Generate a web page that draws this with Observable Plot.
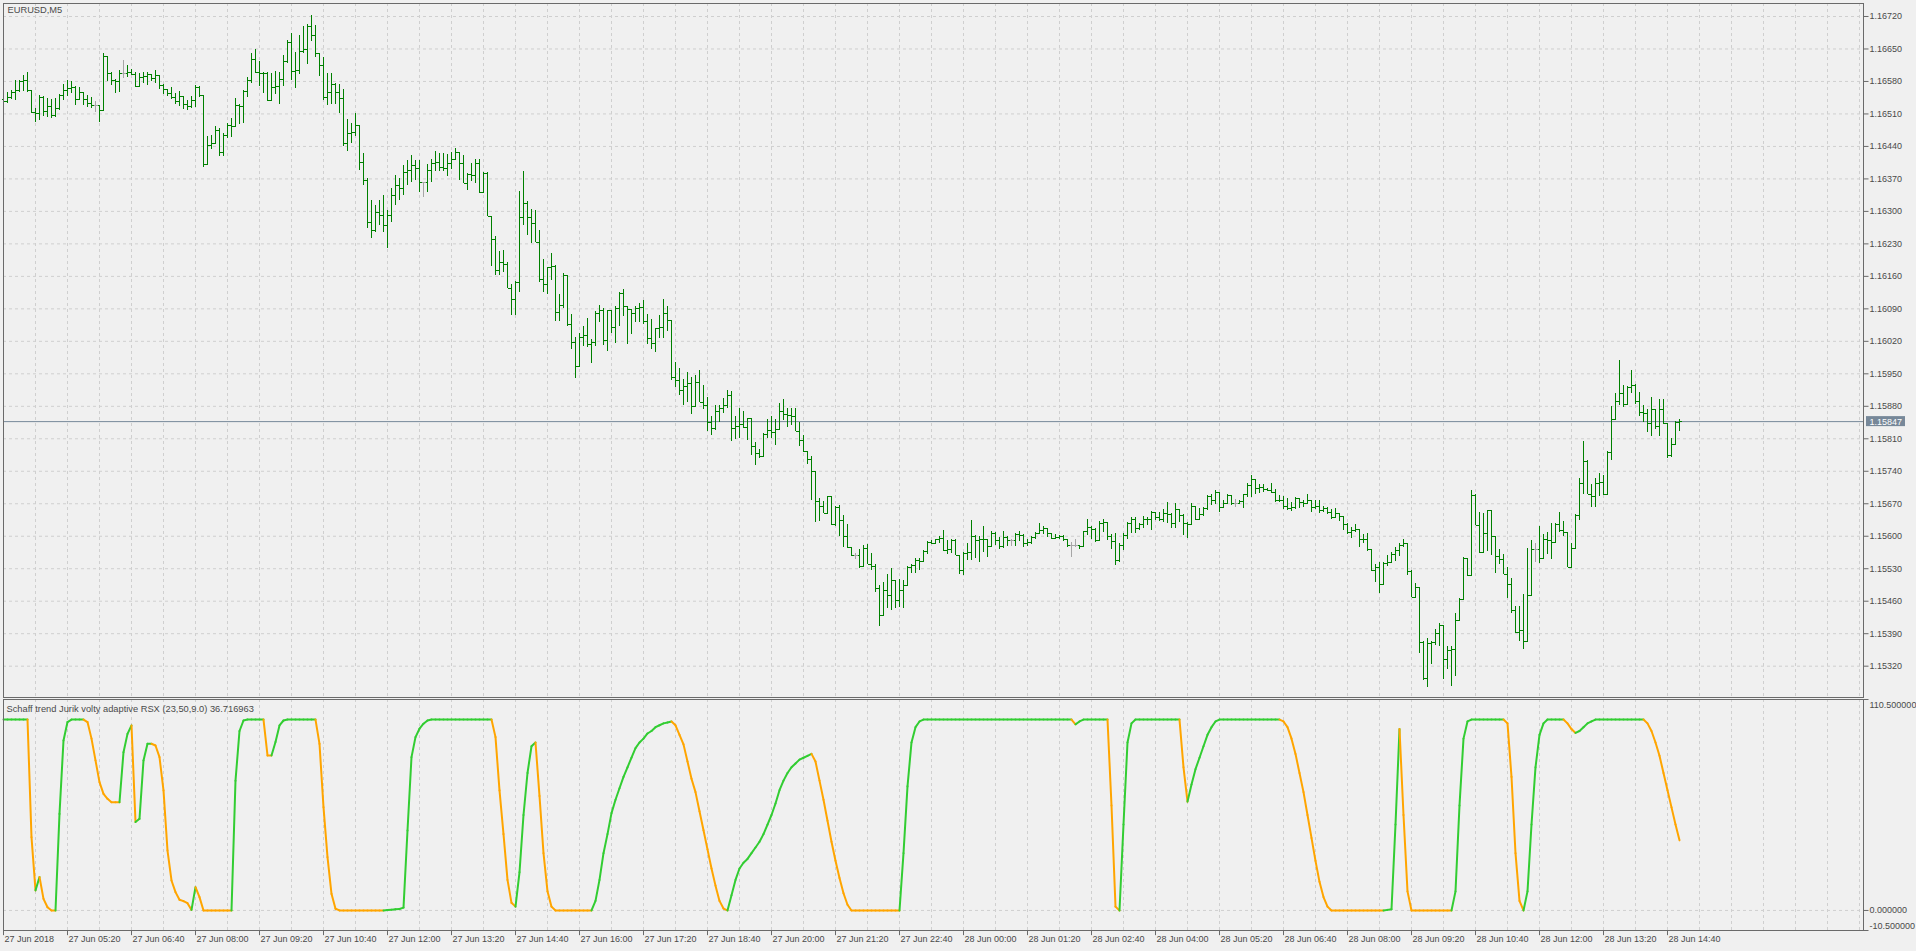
<!DOCTYPE html>
<html><head><meta charset="utf-8">
<script src="https://cdn.jsdelivr.net/npm/d3@7"></script>
<script src="https://cdn.jsdelivr.net/npm/@observablehq/plot@0.6"></script>
<style>
html,body{margin:0;padding:0;background:#f0f0f0;}
#wrap{position:relative;width:1916px;height:951px;overflow:hidden;background:#f0f0f0;}
#wrap svg{position:absolute;left:0;}
</style></head><body><div id="wrap"></div>
<script>
const symbolTitle = "EURUSD,M5";
const indicatorTitle = "Schaff trend Jurik volty adaptive RSX (23,50,9.0) 36.716963";
const lastPrice = 1.15847;
const priceTicks = [1.16720,1.16650,1.16580,1.16510,1.16440,1.16370,1.16300,1.16230,1.16160,1.16090,1.16020,1.15950,1.15880,1.15810,1.15740,1.15670,1.15600,1.15530,1.15460,1.15390,1.15320];
const indicatorTicks = [110.5, 0, -10.5];
const timeLabels = ["27 Jun 2018","27 Jun 05:20","27 Jun 06:40","27 Jun 08:00","27 Jun 09:20","27 Jun 10:40","27 Jun 12:00","27 Jun 13:20","27 Jun 14:40","27 Jun 16:00","27 Jun 17:20","27 Jun 18:40","27 Jun 20:00","27 Jun 21:20","27 Jun 22:40","28 Jun 00:00","28 Jun 01:20","28 Jun 02:40","28 Jun 04:00","28 Jun 05:20","28 Jun 06:40","28 Jun 08:00","28 Jun 09:20","28 Jun 10:40","28 Jun 12:00","28 Jun 13:20","28 Jun 14:40"];

const high = [
1.16541,1.16557,1.16561,1.16581,1.16581,1.16593,1.16600,1.16561,1.16521,1.16550,
1.16548,1.16543,1.16541,1.16543,1.16552,1.16574,1.16581,1.16579,1.16569,1.16568,
1.16555,1.16549,1.16545,1.16536,1.16528,1.16640,1.16634,1.16600,1.16584,1.16604,
1.16625,1.16615,1.16605,1.16600,1.16597,1.16600,1.16600,1.16595,1.16604,1.16591,
1.16574,1.16562,1.16568,1.16555,1.16559,1.16548,1.16538,1.16548,1.16571,1.16569,
1.16550,1.16462,1.16464,1.16483,1.16478,1.16467,1.16489,1.16500,1.16543,1.16530,
1.16561,1.16588,1.16641,1.16648,1.16622,1.16600,1.16600,1.16597,1.16602,1.16600,
1.16636,1.16668,1.16683,1.16643,1.16679,1.16699,1.16703,1.16722,1.16701,1.16641,
1.16631,1.16597,1.16597,1.16576,1.16574,1.16562,1.16497,1.16489,1.16510,1.16485,
1.16425,1.16371,1.16324,1.16313,1.16324,1.16334,1.16302,1.16349,1.16377,1.16371,
1.16399,1.16410,1.16421,1.16410,1.16410,1.16363,1.16401,1.16411,1.16428,1.16424,
1.16424,1.16423,1.16426,1.16435,1.16426,1.16421,1.16381,1.16403,1.16411,1.16411,
1.16383,1.16383,1.16289,1.16245,1.16213,1.16216,1.16189,1.16143,1.16148,1.16342,
1.16385,1.16322,1.16304,1.16301,1.16258,1.16196,1.16180,1.16209,1.16184,1.16121,
1.16167,1.16162,1.16078,1.16028,1.16037,1.16051,1.16069,1.16024,1.16085,1.16098,
1.16090,1.16087,1.16083,1.16095,1.16126,1.16131,1.16090,1.16088,1.16094,1.16101,
1.16107,1.16078,1.16067,1.16047,1.16076,1.16110,1.16094,1.16065,1.15975,1.15961,
1.15937,1.15952,1.15942,1.15947,1.15958,1.15925,1.15899,1.15858,1.15882,1.15882,
1.15896,1.15914,1.15911,1.15858,1.15875,1.15868,1.15853,1.15853,1.15803,1.15787,
1.15821,1.15851,1.15858,1.15851,1.15886,1.15894,1.15875,1.15875,1.15875,1.15846,
1.15818,1.15782,1.15772,1.15739,1.15681,1.15674,1.15686,1.15685,1.15665,1.15667,
1.15645,1.15626,1.15573,1.15562,1.15571,1.15580,1.15582,1.15563,1.15539,1.15494,
1.15500,1.15518,1.15531,1.15505,1.15507,1.15505,1.15535,1.15540,1.15551,1.15551,
1.15569,1.15589,1.15591,1.15594,1.15599,1.15612,1.15591,1.15592,1.15592,1.15558,
1.15566,1.15584,1.15634,1.15601,1.15599,1.15621,1.15594,1.15611,1.15609,1.15598,
1.15611,1.15599,1.15594,1.15606,1.15611,1.15604,1.15592,1.15599,1.15609,1.15628,
1.15621,1.15614,1.15606,1.15604,1.15601,1.15601,1.15587,1.15587,1.15592,1.15580,
1.15611,1.15635,1.15621,1.15616,1.15632,1.15637,1.15630,1.15604,1.15606,1.15585,
1.15605,1.15630,1.15640,1.15640,1.15628,1.15642,1.15640,1.15654,1.15652,1.15652,
1.15657,1.15673,1.15650,1.15671,1.15655,1.15647,1.15630,1.15671,1.15648,1.15659,
1.15662,1.15688,1.15691,1.15698,1.15684,1.15678,1.15691,1.15688,1.15680,1.15677,
1.15691,1.15714,1.15731,1.15723,1.15711,1.15711,1.15702,1.15714,1.15700,1.15688,
1.15686,1.15681,1.15673,1.15683,1.15681,1.15677,1.15691,1.15678,1.15676,1.15676,
1.15664,1.15663,1.15657,1.15659,1.15650,1.15637,1.15627,1.15619,1.15625,1.15614,
1.15604,1.15605,1.15571,1.15539,1.15544,1.15544,1.15558,1.15566,1.15576,1.15585,
1.15592,1.15585,1.15526,1.15499,1.15489,1.15374,1.15379,1.15374,1.15398,1.15411,
1.15408,1.15362,1.15362,1.15434,1.15465,1.15555,1.15553,1.15698,1.15690,1.15652,
1.15650,1.15655,1.15650,1.15582,1.15571,1.15561,1.15533,1.15510,1.15449,1.15449,
1.15474,1.15573,1.15591,1.15584,1.15621,1.15604,1.15609,1.15627,1.15628,1.15652,
1.15632,1.15607,1.15585,1.15647,1.15724,1.15805,1.15763,1.15711,1.15724,1.15736,
1.15731,1.15783,1.15879,1.15908,1.15979,1.15925,1.15922,1.15958,1.15928,1.15910,
1.15882,1.15874,1.15898,1.15872,1.15894,1.15894,1.15842,1.15810,1.15848,1.15851];

const low = [
1.16533,1.16533,1.16541,1.16539,1.16557,1.16559,1.16557,1.16510,1.16492,1.16496,
1.16505,1.16503,1.16500,1.16502,1.16518,1.16539,1.16548,1.16554,1.16528,1.16538,
1.16528,1.16523,1.16521,1.16514,1.16492,1.16518,1.16579,1.16571,1.16554,1.16557,
1.16586,1.16589,1.16593,1.16566,1.16568,1.16575,1.16571,1.16579,1.16576,1.16562,
1.16552,1.16548,1.16541,1.16530,1.16526,1.16519,1.16518,1.16521,1.16523,1.16545,
1.16394,1.16401,1.16433,1.16444,1.16418,1.16418,1.16457,1.16459,1.16480,1.16487,
1.16490,1.16545,1.16576,1.16598,1.16569,1.16555,1.16536,1.16538,1.16552,1.16530,
1.16569,1.16618,1.16581,1.16564,1.16595,1.16641,1.16617,1.16667,1.16631,1.16591,
1.16538,1.16528,1.16530,1.16530,1.16512,1.16439,1.16430,1.16447,1.16462,1.16388,
1.16356,1.16263,1.16242,1.16255,1.16270,1.16255,1.16220,1.16276,1.16313,1.16324,
1.16334,1.16356,1.16362,1.16367,1.16341,1.16331,1.16340,1.16363,1.16385,1.16385,
1.16385,1.16375,1.16390,1.16410,1.16367,1.16360,1.16345,1.16365,1.16360,1.16338,
1.16342,1.16288,1.16182,1.16162,1.16162,1.16169,1.16134,1.16076,1.16076,1.16126,
1.16270,1.16248,1.16230,1.16232,1.16146,1.16126,1.16121,1.16151,1.16062,1.16062,
1.16090,1.16051,1.16002,1.15940,1.15966,1.16008,1.16006,1.15972,1.16009,1.16060,
1.16011,1.15999,1.16037,1.16015,1.16051,1.16074,1.16014,1.16035,1.16060,1.16060,
1.16057,1.16014,1.16002,1.15995,1.16026,1.16026,1.16042,1.15936,1.15920,1.15904,
1.15882,1.15889,1.15863,1.15879,1.15889,1.15873,1.15825,1.15818,1.15827,1.15846,
1.15864,1.15875,1.15805,1.15808,1.15810,1.15832,1.15807,1.15774,1.15753,1.15767,
1.15772,1.15810,1.15810,1.15796,1.15830,1.15850,1.15834,1.15839,1.15825,1.15794,
1.15780,1.15755,1.15678,1.15629,1.15631,1.15649,1.15649,1.15624,1.15622,1.15599,
1.15576,1.15573,1.15556,1.15549,1.15530,1.15532,1.15539,1.15526,1.15479,1.15406,
1.15429,1.15444,1.15440,1.15444,1.15447,1.15444,1.15494,1.15519,1.15520,1.15526,
1.15544,1.15561,1.15582,1.15582,1.15584,1.15568,1.15561,1.15562,1.15558,1.15517,
1.15515,1.15548,1.15548,1.15551,1.15544,1.15566,1.15555,1.15575,1.15580,1.15571,
1.15573,1.15578,1.15578,1.15578,1.15589,1.15575,1.15578,1.15582,1.15594,1.15605,
1.15604,1.15598,1.15592,1.15592,1.15592,1.15589,1.15575,1.15555,1.15575,1.15571,
1.15576,1.15601,1.15592,1.15587,1.15591,1.15609,1.15591,1.15571,1.15537,1.15544,
1.15569,1.15594,1.15605,1.15606,1.15612,1.15616,1.15623,1.15612,1.15634,1.15632,
1.15630,1.15628,1.15616,1.15616,1.15630,1.15601,1.15596,1.15634,1.15634,1.15637,
1.15642,1.15655,1.15666,1.15668,1.15652,1.15659,1.15670,1.15666,1.15661,1.15671,
1.15659,1.15683,1.15683,1.15691,1.15693,1.15695,1.15697,1.15693,1.15673,1.15673,
1.15657,1.15655,1.15654,1.15657,1.15659,1.15663,1.15668,1.15652,1.15657,1.15650,
1.15652,1.15647,1.15637,1.15640,1.15632,1.15612,1.15604,1.15596,1.15609,1.15575,
1.15584,1.15568,1.15523,1.15501,1.15476,1.15494,1.15535,1.15542,1.15546,1.15556,
1.15575,1.15515,1.15467,1.15465,1.15347,1.15289,1.15273,1.15324,1.15365,1.15362,
1.15291,1.15312,1.15276,1.15298,1.15431,1.15494,1.15513,1.15515,1.15623,1.15563,
1.15566,1.15568,1.15558,1.15520,1.15539,1.15518,1.15465,1.15434,1.15391,1.15374,
1.15355,1.15469,1.15532,1.15544,1.15541,1.15571,1.15561,1.15549,1.15587,1.15609,
1.15599,1.15532,1.15532,1.15571,1.15634,1.15690,1.15690,1.15663,1.15661,1.15686,
1.15688,1.15690,1.15763,1.15849,1.15882,1.15878,1.15882,1.15908,1.15884,1.15858,
1.15846,1.15824,1.15815,1.15831,1.15815,1.15841,1.15767,1.15769,1.15799,1.15826];

const close = [
1.16536,1.16545,1.16557,1.16561,1.16579,1.16581,1.16561,1.16514,1.16510,1.16545,
1.16516,1.16525,1.16507,1.16521,1.16550,1.16561,1.16564,1.16568,1.16541,1.16557,
1.16541,1.16532,1.16528,1.16528,1.16518,1.16634,1.16598,1.16582,1.16579,1.16597,
1.16597,1.16600,1.16594,1.16569,1.16589,1.16591,1.16595,1.16586,1.16593,1.16571,
1.16562,1.16554,1.16545,1.16536,1.16548,1.16530,1.16525,1.16539,1.16568,1.16550,
1.16401,1.16442,1.16446,1.16474,1.16426,1.16464,1.16485,1.16482,1.16528,1.16526,
1.16559,1.16581,1.16627,1.16600,1.16598,1.16597,1.16538,1.16566,1.16570,1.16584,
1.16622,1.16665,1.16602,1.16604,1.16645,1.16648,1.16699,1.16679,1.16640,1.16615,
1.16545,1.16557,1.16574,1.16557,1.16543,1.16446,1.16467,1.16470,1.16485,1.16406,
1.16367,1.16276,1.16259,1.16298,1.16291,1.16270,1.16291,1.16334,1.16356,1.16349,
1.16384,1.16388,1.16399,1.16392,1.16362,1.16362,1.16388,1.16403,1.16406,1.16394,
1.16392,1.16404,1.16411,1.16426,1.16403,1.16361,1.16380,1.16378,1.16404,1.16340,
1.16381,1.16289,1.16239,1.16172,1.16189,1.16186,1.16134,1.16110,1.16146,1.16286,
1.16318,1.16286,1.16274,1.16234,1.16153,1.16143,1.16179,1.16182,1.16083,1.16098,
1.16162,1.16057,1.16017,1.15966,1.16029,1.16033,1.16014,1.16018,1.16080,1.16087,
1.16022,1.16086,1.16050,1.16090,1.16124,1.16095,1.16088,1.16081,1.16090,1.16093,
1.16062,1.16026,1.16016,1.16047,1.16050,1.16080,1.16065,1.15942,1.15936,1.15913,
1.15922,1.15930,1.15879,1.15932,1.15889,1.15882,1.15846,1.15832,1.15868,1.15875,
1.15882,1.15904,1.15832,1.15836,1.15840,1.15834,1.15853,1.15794,1.15778,1.15772,
1.15820,1.15827,1.15823,1.15830,1.15868,1.15863,1.15861,1.15858,1.15825,1.15807,
1.15782,1.15765,1.15739,1.15674,1.15665,1.15650,1.15685,1.15626,1.15663,1.15633,
1.15600,1.15576,1.15558,1.15558,1.15535,1.15573,1.15540,1.15535,1.15488,1.15429,
1.15483,1.15472,1.15505,1.15462,1.15483,1.15494,1.15533,1.15537,1.15548,1.15545,
1.15568,1.15587,1.15584,1.15594,1.15596,1.15569,1.15572,1.15591,1.15558,1.15526,
1.15563,1.15566,1.15599,1.15591,1.15592,1.15594,1.15578,1.15606,1.15591,1.15578,
1.15598,1.15591,1.15591,1.15604,1.15601,1.15584,1.15587,1.15598,1.15606,1.15612,
1.15616,1.15605,1.15596,1.15598,1.15599,1.15592,1.15580,1.15580,1.15580,1.15578,
1.15611,1.15619,1.15614,1.15591,1.15627,1.15630,1.15599,1.15589,1.15548,1.15580,
1.15601,1.15628,1.15635,1.15616,1.15625,1.15637,1.15635,1.15652,1.15640,1.15637,
1.15648,1.15647,1.15628,1.15657,1.15644,1.15628,1.15625,1.15664,1.15637,1.15647,
1.15659,1.15685,1.15678,1.15695,1.15662,1.15671,1.15688,1.15671,1.15671,1.15675,
1.15690,1.15709,1.15723,1.15702,1.15705,1.15700,1.15699,1.15695,1.15676,1.15678,
1.15664,1.15659,1.15663,1.15681,1.15673,1.15670,1.15678,1.15663,1.15664,1.15655,
1.15659,1.15652,1.15641,1.15648,1.15642,1.15625,1.15607,1.15612,1.15615,1.15592,
1.15594,1.15571,1.15526,1.15533,1.15497,1.15541,1.15544,1.15561,1.15569,1.15580,
1.15585,1.15525,1.15467,1.15489,1.15372,1.15293,1.15368,1.15370,1.15391,1.15408,
1.15334,1.15354,1.15357,1.15418,1.15463,1.15553,1.15515,1.15688,1.15623,1.15566,
1.15605,1.15655,1.15599,1.15556,1.15549,1.15518,1.15497,1.15439,1.15393,1.15396,
1.15374,1.15472,1.15571,1.15571,1.15551,1.15592,1.15591,1.15587,1.15625,1.15612,
1.15609,1.15532,1.15573,1.15645,1.15714,1.15762,1.15691,1.15686,1.15714,1.15716,
1.15690,1.15781,1.15851,1.15891,1.15907,1.15884,1.15921,1.15925,1.15891,1.15867,
1.15864,1.15844,1.15874,1.15836,1.15874,1.15844,1.15774,1.15798,1.15846,1.15847];

const open = [
1.16541,1.16536,1.16545,1.16557,1.16561,1.16579,1.16581,1.16561,1.16514,1.16510,
1.16545,1.16516,1.16525,1.16507,1.16521,1.16550,1.16561,1.16564,1.16568,1.16541,
1.16557,1.16541,1.16532,1.16528,1.16528,1.16518,1.16634,1.16598,1.16582,1.16579,
1.16597,1.16597,1.16600,1.16594,1.16569,1.16589,1.16591,1.16595,1.16586,1.16593,
1.16571,1.16562,1.16554,1.16545,1.16536,1.16548,1.16530,1.16525,1.16539,1.16568,
1.16550,1.16401,1.16442,1.16446,1.16474,1.16426,1.16464,1.16485,1.16482,1.16528,
1.16526,1.16559,1.16581,1.16627,1.16600,1.16598,1.16597,1.16538,1.16566,1.16570,
1.16584,1.16622,1.16665,1.16602,1.16604,1.16645,1.16648,1.16699,1.16679,1.16640,
1.16615,1.16545,1.16557,1.16574,1.16557,1.16543,1.16446,1.16467,1.16470,1.16485,
1.16406,1.16367,1.16276,1.16259,1.16298,1.16291,1.16270,1.16291,1.16334,1.16356,
1.16349,1.16384,1.16388,1.16399,1.16392,1.16362,1.16362,1.16388,1.16403,1.16406,
1.16394,1.16392,1.16404,1.16411,1.16426,1.16403,1.16361,1.16380,1.16378,1.16404,
1.16340,1.16381,1.16289,1.16239,1.16172,1.16189,1.16186,1.16134,1.16110,1.16146,
1.16286,1.16318,1.16286,1.16274,1.16234,1.16153,1.16143,1.16179,1.16182,1.16083,
1.16098,1.16162,1.16057,1.16017,1.15966,1.16029,1.16033,1.16014,1.16018,1.16080,
1.16087,1.16022,1.16086,1.16050,1.16090,1.16124,1.16095,1.16088,1.16081,1.16090,
1.16093,1.16062,1.16026,1.16016,1.16047,1.16050,1.16080,1.16065,1.15942,1.15936,
1.15913,1.15922,1.15930,1.15879,1.15932,1.15889,1.15882,1.15846,1.15832,1.15868,
1.15875,1.15882,1.15904,1.15832,1.15836,1.15840,1.15834,1.15853,1.15794,1.15778,
1.15772,1.15820,1.15827,1.15823,1.15830,1.15868,1.15863,1.15861,1.15858,1.15825,
1.15807,1.15782,1.15765,1.15739,1.15674,1.15665,1.15650,1.15685,1.15626,1.15663,
1.15633,1.15600,1.15576,1.15558,1.15558,1.15535,1.15573,1.15540,1.15535,1.15488,
1.15429,1.15483,1.15472,1.15505,1.15462,1.15483,1.15494,1.15533,1.15537,1.15548,
1.15545,1.15568,1.15587,1.15584,1.15594,1.15596,1.15569,1.15572,1.15591,1.15558,
1.15526,1.15563,1.15566,1.15599,1.15591,1.15592,1.15594,1.15578,1.15606,1.15591,
1.15578,1.15598,1.15591,1.15591,1.15604,1.15601,1.15584,1.15587,1.15598,1.15606,
1.15612,1.15616,1.15605,1.15596,1.15598,1.15599,1.15592,1.15580,1.15580,1.15580,
1.15578,1.15611,1.15619,1.15614,1.15591,1.15627,1.15630,1.15599,1.15589,1.15548,
1.15580,1.15601,1.15628,1.15635,1.15616,1.15625,1.15637,1.15635,1.15652,1.15640,
1.15637,1.15648,1.15647,1.15628,1.15657,1.15644,1.15628,1.15625,1.15664,1.15637,
1.15647,1.15659,1.15685,1.15678,1.15695,1.15662,1.15671,1.15688,1.15671,1.15671,
1.15675,1.15690,1.15709,1.15723,1.15702,1.15705,1.15700,1.15699,1.15695,1.15676,
1.15678,1.15664,1.15659,1.15663,1.15681,1.15673,1.15670,1.15678,1.15663,1.15664,
1.15655,1.15659,1.15652,1.15641,1.15648,1.15642,1.15625,1.15607,1.15612,1.15615,
1.15592,1.15594,1.15571,1.15526,1.15533,1.15497,1.15541,1.15544,1.15561,1.15569,
1.15580,1.15585,1.15525,1.15467,1.15489,1.15372,1.15293,1.15368,1.15370,1.15391,
1.15408,1.15334,1.15354,1.15357,1.15418,1.15463,1.15553,1.15515,1.15688,1.15623,
1.15566,1.15605,1.15655,1.15599,1.15556,1.15549,1.15518,1.15497,1.15439,1.15393,
1.15396,1.15374,1.15472,1.15571,1.15571,1.15551,1.15592,1.15591,1.15587,1.15625,
1.15612,1.15609,1.15532,1.15573,1.15645,1.15714,1.15762,1.15691,1.15686,1.15714,
1.15716,1.15690,1.15781,1.15851,1.15891,1.15907,1.15884,1.15921,1.15925,1.15891,
1.15867,1.15864,1.15844,1.15874,1.15836,1.15874,1.15844,1.15774,1.15798,1.15846];

const indicator = [
100,100,100,100,100,100,100,38.4,10.5,17.5,
6.1,1.7,0,0,50.6,89,98.7,100,100,100,
100,98.7,90,78.6,67.2,61.1,58.5,56.7,56.7,56.7,
82.9,92.5,96.9,46.3,48,78.6,87.3,87.3,86.4,80.3,
62.9,31.4,15.7,9.6,5.6,4.9,3.8,0.3,12.2,7,
0,0,0,0,0,0,0,0,68,94,
99.5,100,100,100,100,100,81.2,81.2,88.2,96.9,
99.5,100,100,100,100,100,100,100,100,87.3,
54.1,27.9,8.7,0.9,0,0,0,0,0,0,
0,0,0,0,0,0,0.2,0.4,0.6,0.8,
1.5,41.9,80.3,90.8,95.2,97.8,99.5,100,100,100,
100,100,100,100,100,100,100,100,100,100,
100,100,100,90.8,62.9,40,16,4,2,20,
50,72,86,88,60,30,10,2,0,0,
0,0,0,0,0,0,0,0,5,16,
30,40,51,58,64,70,75,80,85,88,
90,92.7,94,96,97,98,98.5,99,97,92,
87,78,69,62,52,42,32,22,13,5,
1,0,8,16,22,25,27,30,33,36,
40,45,50,56,63,68,72,75,77,79,
80,81,82,78,68,58,47,36,26,17,
9,3,0,0,0,0,0,0,0,0,
0,0,0,0,0,30,65,88,96,99,
100,100,100,100,100,100,100,100,100,100,
100,100,100,100,100,100,100,100,100,100,
100,100,100,100,100,100,100,100,100,100,
100,100,100,100,100,100,100,100,97.5,99,
100,100,100,100,100,100,100,55,2,0,
45,88,98,100,100,100,100,100,100,100,
100,100,100,100,100,75,57,66,74,80,
86,92,96,99,100,100,100,100,100,100,
100,100,100,100,100,100,100,100,100,100,
99,96,90,82,72,62,50,38,26,15,
7,2,0,0,0,0,0,0,0,0,
0,0,0,0,0,0,0.3,0.6,45,95,
50,10,0,0,0,0,0,0,0,0,
0,0,0,10,55,90,99,100,100,100,
100,100,100,100,100,100,98,70,30,5,
0,10,45,75,92,98,100,100,100,100,
100,98,95,93,94,96,98,99,100,100,
100,100,100,100,100,100,100,100,100,100,
100,98,94,88,81,72,63,54,45,36.716963];

const FONT = "'Liberation Sans', Arial, sans-serif";
const TXT = "#4a4a4a";
const GRID = "#cfcfcf";
const BORDER = "#6a6a6a";
const BAR = "#008000";
const DOJI = "#a6a6a6";
const UP = "#32cd32";
const DOWN = "#ffa500";
const W = 1916;
const XDOM = [0, 465];

const bars = high.map((h, i) => ({i, high: h, low: low[i], open: open[i], close: close[i]}));
const barColor = d => d.open === d.close ? DOJI : BAR;
const gridX = d3.range(0, 466, 8);
const labelIdx = timeLabels.map((t, k) => ({t, i: k * 16}));

const main = Plot.plot({
  width: W, height: 698,
  marginLeft: 3, marginRight: 53, marginTop: 3, marginBottom: 1,
  x: {domain: XDOM, axis: null},
  y: {domain: [1.152525, 1.16748], axis: null},
  style: {background: "transparent", fontFamily: FONT, fontSize: "9px", overflow: "visible"},
  marks: [
    Plot.ruleY(priceTicks, {stroke: GRID, strokeDasharray: "3,3"}),
    Plot.ruleX(gridX, {stroke: GRID, strokeDasharray: "3,3"}),
    Plot.ruleY([lastPrice], {stroke: "#778899"}),
    Plot.ruleX(bars, {x: "i", y1: d => Math.min(d.low, d.open, d.close), y2: d => Math.max(d.high, d.open, d.close), stroke: barColor, strokeWidth: 1, shapeRendering: "crispEdges"}),
    Plot.link(bars, {x1: d => d.i - 0.5, x2: "i", y1: "open", y2: "open", stroke: barColor, strokeWidth: 1, shapeRendering: "crispEdges"}),
    Plot.link(bars, {x1: "i", x2: d => d.i + 0.5, y1: "close", y2: "close", stroke: barColor, strokeWidth: 1, shapeRendering: "crispEdges"}),
    Plot.frame({stroke: BORDER}),
    Plot.link(priceTicks, {x1: 465, x2: 466.25, y1: d => d, y2: d => d, stroke: BORDER}),
    Plot.text(priceTicks, {x: 466.5, y: d => d, text: d => d.toFixed(5), textAnchor: "start", lineAnchor: "middle", fill: TXT, fontSize: 9, fontFamily: FONT}),
    Plot.rect([lastPrice], {x1: 465.75, x2: 475.5, y1: d => d - 0.000108, y2: d => d + 0.000108, fill: "#778899"}),
    Plot.text([lastPrice], {x: 466.5, y: d => d, text: d => d.toFixed(5), textAnchor: "start", lineAnchor: "middle", fill: "#ffffff", fontSize: 9, fontFamily: FONT}),
    Plot.text([symbolTitle], {frameAnchor: "top-left", dx: 4, dy: 3, lineAnchor: "top", textAnchor: "start", fill: TXT, fontSize: 9.3, fontFamily: FONT})
  ]
});
main.style.top = "0px";

const segs = [];
let up = true;
for (let i = 0; i < indicator.length - 1; i++) {
  const a = indicator[i], b = indicator[i + 1];
  if (b > a) up = true; else if (b < a) up = false;
  segs.push({x1: i, x2: i + 1, y1: a, y2: b, up});
}

const ind = Plot.plot({
  width: W, height: 253,
  marginLeft: 3, marginRight: 53, marginTop: 1, marginBottom: 21,
  x: {domain: XDOM, axis: null},
  y: {domain: [-10.5, 110.5], axis: null},
  style: {background: "transparent", fontFamily: FONT, fontSize: "9px", overflow: "visible"},
  marks: [
    Plot.ruleX(gridX, {stroke: GRID, strokeDasharray: "3,3"}),
    Plot.ruleY([0], {stroke: GRID, strokeDasharray: "3,3"}),
    Plot.link(segs, {x1: "x1", x2: "x2", y1: "y1", y2: "y2", stroke: d => d.up ? UP : DOWN, strokeWidth: 2, strokeLinecap: "round"}),
    Plot.frame({stroke: BORDER}),
    Plot.link(indicatorTicks, {x1: 465, x2: 466.25, y1: d => d, y2: d => d, stroke: BORDER}),
    Plot.text([indicatorTicks[0]], {x: 466.5, y: d => d, text: d => d.toFixed(6), textAnchor: "start", lineAnchor: "top", dy: 2.5, fill: TXT, fontSize: 9, fontFamily: FONT}),
    Plot.text([indicatorTicks[1]], {x: 466.5, y: d => d, text: d => d.toFixed(6), textAnchor: "start", lineAnchor: "middle", fill: TXT, fontSize: 9, fontFamily: FONT}),
    Plot.text([indicatorTicks[2]], {x: 466.5, y: d => d, text: d => d.toFixed(6), textAnchor: "start", lineAnchor: "bottom", dy: -1.5, fill: TXT, fontSize: 9, fontFamily: FONT}),
    Plot.ruleX(labelIdx, {x: "i", y1: -10.5, y2: -13.2, stroke: BORDER}),
    Plot.text(labelIdx, {x: "i", y: -10.5, text: "t", textAnchor: "start", lineAnchor: "top", dx: 1, dy: 5.5, fill: TXT, fontSize: 9, fontFamily: FONT}),
    Plot.text([indicatorTitle], {frameAnchor: "top-left", dx: 3, dy: 5.5, lineAnchor: "top", textAnchor: "start", fill: TXT, fontSize: 9.3, fontFamily: FONT})
  ]
});
ind.style.top = "698px";

const wrap = document.getElementById("wrap");
wrap.appendChild(main);
wrap.appendChild(ind);
</script>
</body></html>
